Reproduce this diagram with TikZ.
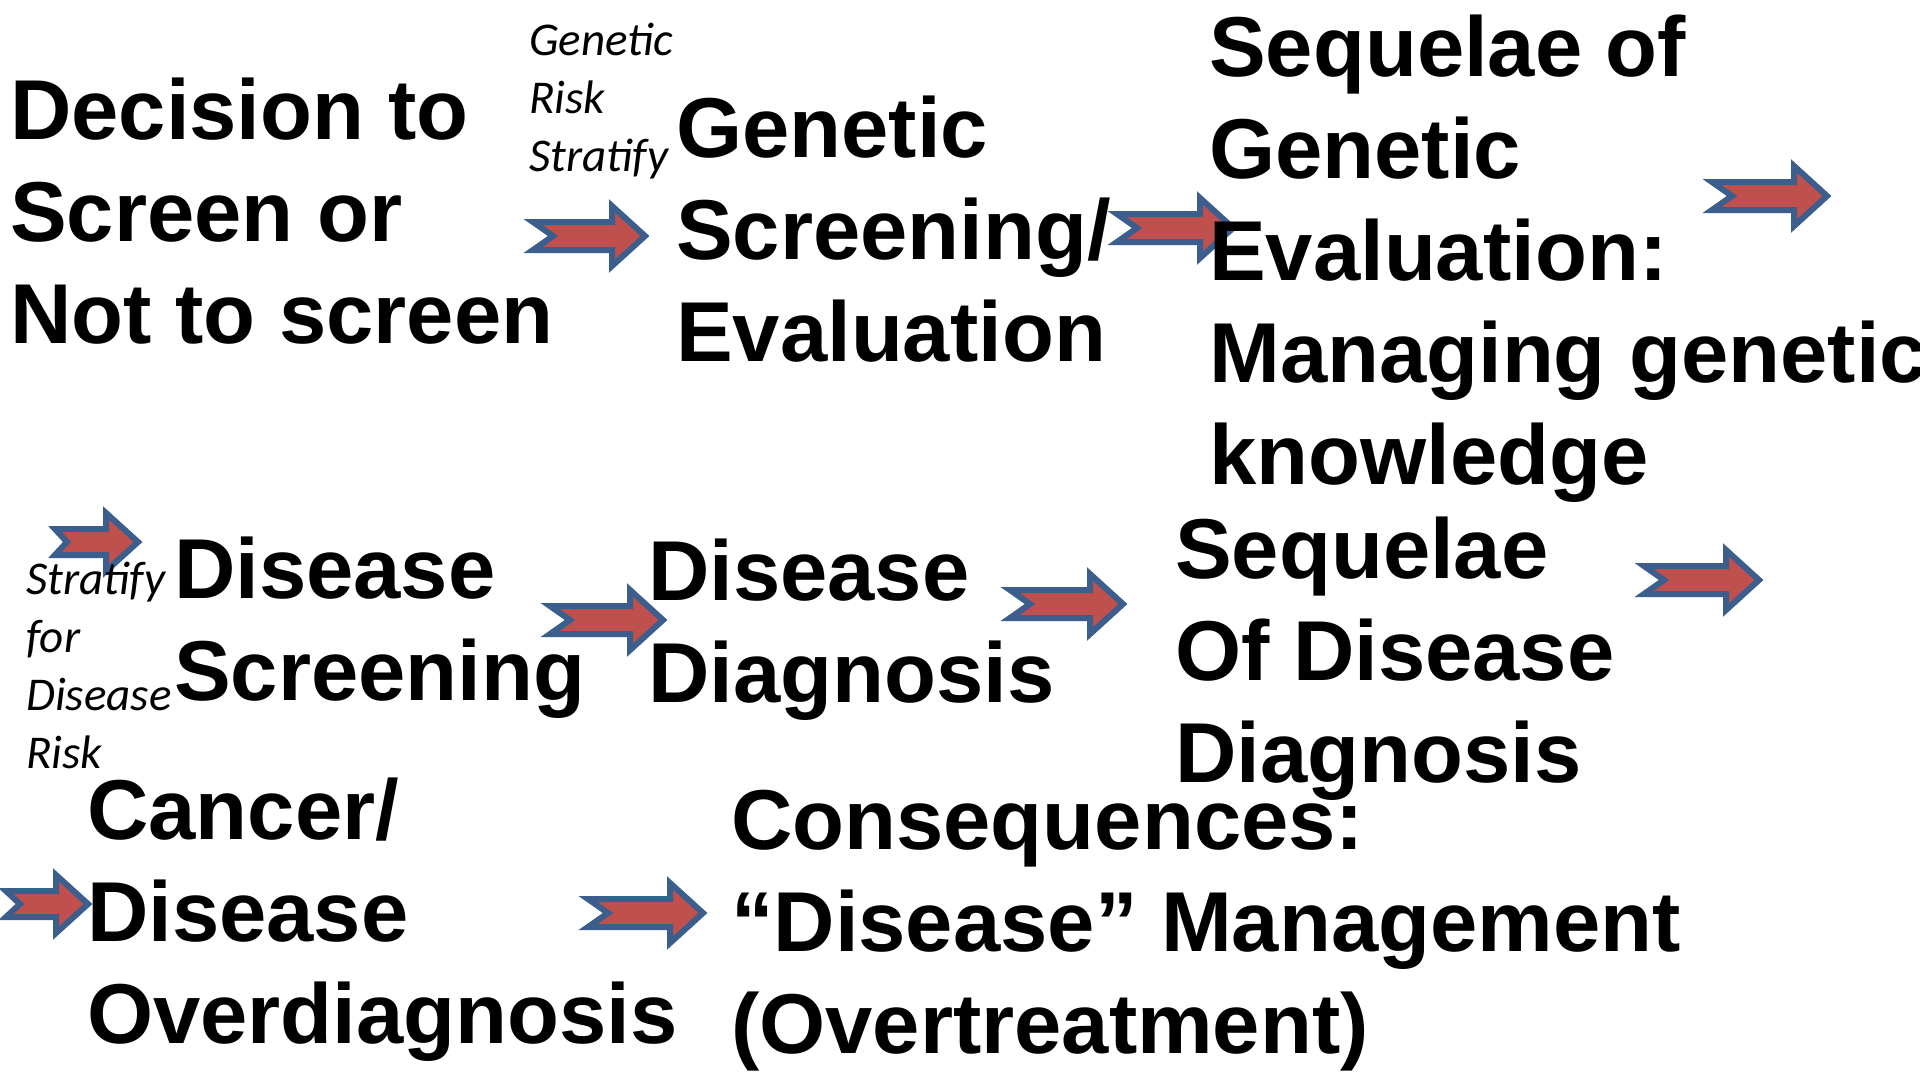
\documentclass[tikz,border=0pt]{standalone}
\usepackage{fontspec}
\setmainfont{Liberation Sans}
\newfontfamily\labelfont{Carlito}
\definecolor{arrowfill}{HTML}{C0504D}
\definecolor{arrowline}{HTML}{3B5E8C}
\tikzset{
  arrowsty/.style={fill=arrowfill,draw=arrowline,line width=6pt,line join=miter},
  bigtext/.style={anchor=base west,inner sep=0pt,align=left,
    font=\fontsize{85}{102}\selectfont\bfseries},
  smalltext/.style={anchor=base west,inner sep=0pt,align=left,
    font=\fontsize{47}{58}\selectfont\labelfont\itshape},
}
% tail x, tip x, centre y, shaft half, head half, head length, notch
\newcommand\notcharrow[7]{%
  \draw[arrowsty] (#1,#3-#4) -- (#2-#6,#3-#4) -- (#2-#6,#3-#5) -- (#2,#3)
    -- (#2-#6,#3+#5) -- (#2-#6,#3+#4) -- (#1,#3+#4) -- (#1+#7,#3) -- cycle;}
\begin{document}
\begin{tikzpicture}[x=1pt,y=-1pt]
\useasboundingbox[fill=white] (0,0) rectangle (1920,1079);
% arrows
\notcharrow{533}{645}{236}{14}{30}{33}{20}
\notcharrow{1117}{1233}{228}{14}{30}{33}{20}
\notcharrow{1712}{1827}{196}{14}{30}{33}{20}
\notcharrow{55}{138}{542}{13}{29}{32}{12}
\notcharrow{550}{663}{620}{14}{30}{33}{20}
\notcharrow{1010}{1123}{604}{14}{30}{33}{20}
\notcharrow{1644}{1759}{580}{14}{30}{33}{20}
\notcharrow{6}{88}{904}{13}{29}{32}{14}
\notcharrow{588}{703}{913}{14}{30}{33}{20}
% texts (anchor = baseline of the last line)
\node[bigtext] (decide) at (10,343) {Decision to\\Screen or\\Not to screen};
\node[smalltext] (grisk) at (529,171) {Genetic\\Risk\\Stratify};
\node[bigtext] (gscreen) at (676,361) {Genetic\\Screening/\\Evaluation};
\node[bigtext] (gseq) at (1209,484) {Sequelae of\\Genetic\\Evaluation:\\Managing genetic\\knowledge};
\node[smalltext] (drisk) at (26,768) {Stratify\\for\\Disease\\Risk};
\node[bigtext] (dscreen) at (174,700) {Disease\\Screening};
\node[bigtext] (ddiag) at (648,702) {Disease\\Diagnosis};
\node[bigtext] (dseq) at (1175,782) {Sequelae\\Of Disease\\Diagnosis};
\node[bigtext] (over) at (87,1043) {Cancer/\\Disease\\Overdiagnosis};
\node[bigtext] (conseq) at (731,1053) {Consequences:\\“Disease” Management\\(Overtreatment)};
\end{tikzpicture}
\end{document}
